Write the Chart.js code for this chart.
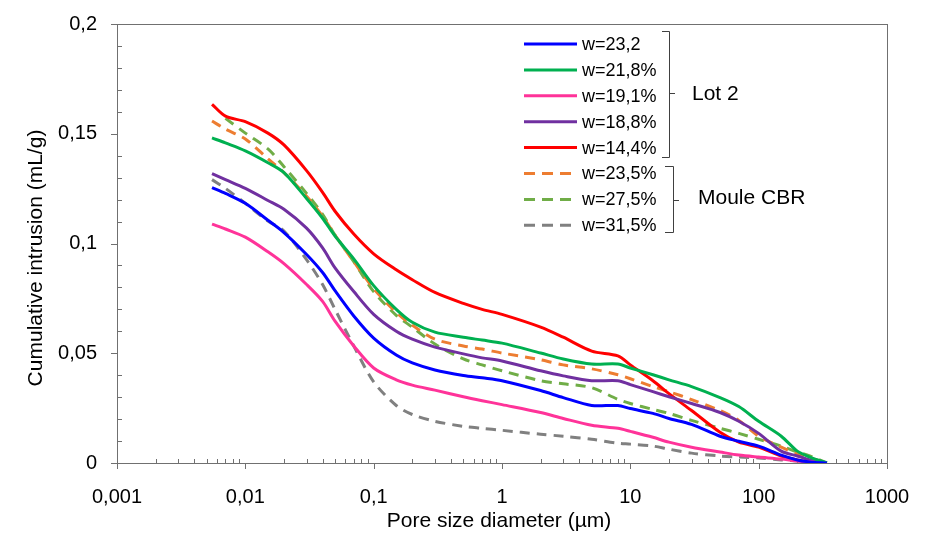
<!DOCTYPE html>
<html>
<head>
<meta charset="utf-8">
<script src="https://cdn.jsdelivr.net/npm/chart.js@4"></script>
<style>
  html, body { margin: 0; padding: 0; background: #fff; }
  #wrap { width: 927px; height: 538px; }
</style>
</head>
<body>
<div id="wrap"><canvas id="chart" width="927" height="538"></canvas></div>
<script>
// pore diameters (µm) shared by every curve
const diameters = [0.0055, 0.007, 0.01, 0.015, 0.02, 0.03, 0.04, 0.05, 0.07, 0.1, 0.15, 0.2, 0.3, 0.5, 0.7, 1, 2, 3, 5, 8, 10, 15, 20, 30, 50, 70, 100, 150, 200, 250, 340];

// Lot 2
const w232 = [0.1255, 0.1228, 0.1183, 0.1106, 0.1050, 0.0950, 0.0868, 0.0785, 0.0670, 0.0569, 0.0492, 0.0456, 0.0424, 0.0399, 0.0388, 0.0375, 0.033, 0.0298, 0.0262, 0.0262, 0.0248, 0.0226, 0.0203, 0.0176, 0.0122, 0.0099, 0.0077, 0.0036, 0.0014, 0.0005, 0];
const w218 = [0.1481, 0.1458, 0.1422, 0.1368, 0.1323, 0.1205, 0.1115, 0.1034, 0.093, 0.0808, 0.070, 0.0641, 0.0596, 0.0573, 0.056, 0.0546, 0.0501, 0.0474, 0.0451, 0.0451, 0.0433, 0.0402, 0.0379, 0.0348, 0.0298, 0.0257, 0.019, 0.0122, 0.0054, 0.0027, 0];
const w191 = [0.1088, 0.1066, 0.1029, 0.0962, 0.0908, 0.0813, 0.0736, 0.0646, 0.0533, 0.0433, 0.0379, 0.0355, 0.0332, 0.0302, 0.0284, 0.0266, 0.023, 0.0203, 0.0172, 0.0158, 0.0144, 0.0117, 0.0095, 0.0072, 0.005, 0.0036, 0.0027, 0.0018, 0.0009, 0.0005, 0];
const w188 = [0.1318, 0.1291, 0.1251, 0.1196, 0.1156, 0.107, 0.098, 0.0889, 0.0781, 0.0677, 0.060, 0.0564, 0.0528, 0.0497, 0.0479, 0.0465, 0.042, 0.0397, 0.0375, 0.0375, 0.0357, 0.0325, 0.0302, 0.0271, 0.023, 0.019, 0.0135, 0.0054, 0.0032, 0.0014, 0];
const w144 = [0.1634, 0.158, 0.1555, 0.1503, 0.1449, 0.1332, 0.1233, 0.1147, 0.1043, 0.0953, 0.088, 0.0835, 0.0777, 0.0727, 0.070, 0.0677, 0.0619, 0.0573, 0.051, 0.0488, 0.0447, 0.0375, 0.0316, 0.0239, 0.014, 0.0095, 0.0072, 0.0032, 0.0014, 0.0005, 0];

// Moule CBR
const w235 = [0.1558, 0.1521, 0.1476, 0.1386, 0.1323, 0.1215, 0.1124, 0.1038, 0.0917, 0.0795, 0.0686, 0.0628, 0.0564, 0.0533, 0.0519, 0.0501, 0.047, 0.0447, 0.0429, 0.0402, 0.0384, 0.0348, 0.0325, 0.0289, 0.0239, 0.0194, 0.0122, 0.0072, 0.0041, 0.0023, 0];
const w275 = [null, 0.1570, 0.1503, 0.1431, 0.135, 0.1228, 0.1133, 0.1038, 0.0917, 0.0781, 0.0673, 0.0619, 0.0542, 0.0474, 0.0447, 0.042, 0.0375, 0.0361, 0.0343, 0.029, 0.0271, 0.0244, 0.0226, 0.0194, 0.0158, 0.0135, 0.0108, 0.0077, 0.005, 0.0032, 0];
const w315 = [0.1291, 0.1251, 0.1183, 0.1102, 0.1057, 0.0926, 0.0813, 0.070, 0.0533, 0.037, 0.0262, 0.0221, 0.019, 0.0167, 0.0158, 0.0149, 0.0131, 0.0122, 0.0108, 0.009, 0.0086, 0.0077, 0.0063, 0.0045, 0.0032, 0.0027, 0.0023, 0.0014, 0.0009, 0.0005, 0];

const seriesLabels = ['w=23,2', 'w=21,8%', 'w=19,1%', 'w=18,8%', 'w=14,4%', 'w=23,5%', 'w=27,5%', 'w=31,5%'];
const seriesValues = [w232, w218, w191, w188, w144, w235, w275, w315];
const seriesColors = ['#0000FF', '#00B050', '#FF3399', '#7030A0', '#FF0000', '#ED7D31', '#70AD47', '#808080'];
const seriesDashed = [false, false, false, false, false, true, true, true];
const groupLabels = ['Lot 2', 'Moule CBR'];

const yTicks = [0, 0.05, 0.1, 0.15, 0.2];
const xTicks = [0.001, 0.01, 0.1, 1, 10, 100, 1000];

const FONT = "'Liberation Sans', Arial, sans-serif";
const AXIS_COLOR = '#707070';

function fmt(v) {
    return String(v).replace('.', ',');
}

const datasets = seriesValues.map((vals, i) => ({
    label: seriesLabels[i],
    data: diameters.map((d, j) => ({ x: d, y: vals[j] })),
    borderColor: seriesColors[i],
    backgroundColor: seriesColors[i],
    borderWidth: 3,
    borderDash: seriesDashed[i] ? [10, 7] : [],
    pointRadius: 0,
    tension: 0.3,
    spanGaps: false,
    fill: false
}));

// frame, tick marks and axis titles
const axisDecor = {
    id: 'axisDecor',
    beforeDatasetsDraw(chart) {
        const ctx = chart.ctx;
        const a = chart.chartArea;
        const xs = chart.scales.x, ys = chart.scales.y;
        ctx.save();
        ctx.strokeStyle = AXIS_COLOR;
        ctx.lineWidth = 1;
        ctx.strokeRect(Math.round(a.left) + 0.5, Math.round(a.top) + 0.5,
            Math.round(a.right - a.left), Math.round(a.bottom - a.top));
        ctx.beginPath();
        // x ticks
        for (let e = -3; e <= 3; e++) {
            const px = Math.round(xs.getPixelForValue(Math.pow(10, e))) + 0.5;
            ctx.moveTo(px, a.bottom);
            ctx.lineTo(px, a.bottom + 6);
            if (e < 3) {
                for (let m = 2; m <= 9; m++) {
                    const mx = Math.round(xs.getPixelForValue(m * Math.pow(10, e))) + 0.5;
                    ctx.moveTo(mx, a.bottom);
                    ctx.lineTo(mx, a.bottom - 4);
                }
            }
        }
        // y ticks
        for (let k = 0; k <= 20; k++) {
            const py = Math.round(ys.getPixelForValue(k / 100)) + 0.5;
            if (k % 5 === 0) {
                ctx.moveTo(a.left - 6, py);
                ctx.lineTo(a.left, py);
            } else {
                ctx.moveTo(a.left, py);
                ctx.lineTo(a.left + 5, py);
            }
        }
        ctx.stroke();

        ctx.fillStyle = '#000';
        ctx.font = '21px ' + FONT;
        ctx.textAlign = 'center';
        ctx.textBaseline = 'middle';
        ctx.fillText('Pore size diameter (µm)', (a.left + a.right) / 2 - 3, 521);
        ctx.translate(36, 258);
        ctx.rotate(-Math.PI / 2);
        ctx.fillText('Cumulative intrusion (mL/g)', 0, 0);
        ctx.restore();
    }
};

// legend with group brackets
const bracketLegend = {
    id: 'bracketLegend',
    afterDraw(chart) {
        const ctx = chart.ctx;
        ctx.save();
        ctx.font = '18px ' + FONT;
        ctx.textBaseline = 'middle';
        ctx.textAlign = 'left';
        seriesLabels.forEach((label, i) => {
            const yy = 44 + i * 25.9;
            ctx.strokeStyle = seriesColors[i];
            ctx.lineWidth = 3;
            ctx.setLineDash(seriesDashed[i] ? [11, 7] : []);
            ctx.beginPath();
            ctx.moveTo(524, yy);
            ctx.lineTo(577, yy);
            ctx.stroke();
            ctx.fillStyle = '#000';
            ctx.fillText(label, 582, yy + 1);
        });
        ctx.setLineDash([]);
        ctx.strokeStyle = '#404040';
        ctx.lineWidth = 1;
        ctx.beginPath();
        // Lot 2 bracket
        ctx.moveTo(662, 31.5); ctx.lineTo(669.5, 31.5); ctx.lineTo(669.5, 157.5); ctx.lineTo(662, 157.5);
        ctx.moveTo(669.5, 93.5); ctx.lineTo(675, 93.5);
        // Moule CBR bracket
        ctx.moveTo(665, 166.5); ctx.lineTo(673.5, 166.5); ctx.lineTo(673.5, 232.5); ctx.lineTo(665, 232.5);
        ctx.moveTo(673.5, 200.5); ctx.lineTo(679, 200.5);
        ctx.stroke();
        ctx.fillStyle = '#000';
        ctx.font = '21px ' + FONT;
        ctx.fillText(groupLabels[0], 692, 94);
        ctx.fillText(groupLabels[1], 698, 198);
        ctx.restore();
    }
};

new Chart(document.getElementById('chart'), {
    type: 'line',
    data: { datasets: datasets },
    options: {
        responsive: false,
        animation: false,
        layout: { padding: { top: 20, right: 40, left: 0, bottom: 0 } },
        scales: {
            x: {
                type: 'logarithmic',
                min: 0.001,
                max: 1000,
                afterBuildTicks: scale => { scale.ticks = xTicks.map(v => ({ value: v, major: true })); },
                afterFit: scale => { scale.height = 75; },
                grid: { display: false },
                border: { display: false },
                ticks: {
                    autoSkip: false,
                    maxRotation: 0,
                    padding: 14,
                    color: '#000',
                    font: { family: FONT, size: 20 },
                    callback: v => fmt(v)
                }
            },
            y: {
                type: 'linear',
                min: 0,
                max: 0.2,
                afterBuildTicks: scale => { scale.ticks = yTicks.map(v => ({ value: v })); },
                afterFit: scale => { scale.width = 117; },
                grid: { display: false },
                border: { display: false },
                ticks: {
                    padding: 12,
                    color: '#000',
                    font: { family: FONT, size: 20 },
                    callback: v => fmt(v)
                }
            }
        },
        plugins: {
            legend: { display: false },
            tooltip: { enabled: false }
        }
    },
    plugins: [axisDecor, bracketLegend]
});
</script>
</body>
</html>
